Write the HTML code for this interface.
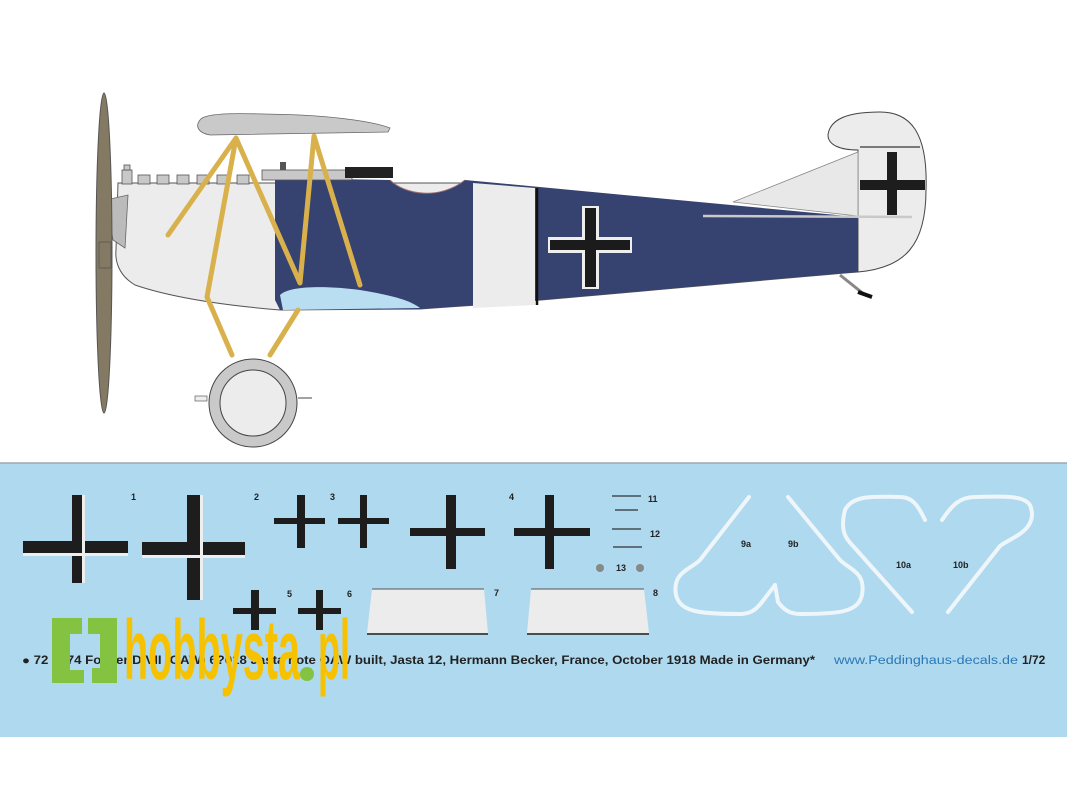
<!DOCTYPE html>
<html><head><meta charset="utf-8"><style>
html,body{margin:0;padding:0;background:#fff;width:1067px;height:800px;overflow:hidden}
svg{display:block}
</style></head><body>
<svg width="1067" height="800" viewBox="0 0 1067 800" xmlns="http://www.w3.org/2000/svg" font-family="Liberation Sans, sans-serif">
<rect width="1067" height="800" fill="#fff"/>
<rect x="0" y="463" width="1067" height="274" fill="#aed9ef"/>
<line x1="0" y1="463" x2="1067" y2="463" stroke="#9aa9b2" stroke-width="1.5"/>

<!-- tail rudder -->
<path d="M858,272 L858,150 C840,150 828,145 828,135 C830,118 850,112 880,112 C912,112 928,135 926,190 C926,245 905,268 858,272 Z" fill="#ececec" stroke="#444" stroke-width="1"/>
<path d="M733,202 L858,152 L858,216 Z" fill="#e8e8e8" stroke="#888" stroke-width="0.8"/>
<line x1="860" y1="147" x2="920" y2="147" stroke="#555" stroke-width="1.5"/>
<rect x="887" y="152" width="10" height="63" fill="#1d1d1d"/>
<rect x="860" y="180" width="65" height="10" fill="#1d1d1d"/>
<!-- fuselage -->
<path d="M118,183 L470,183 L858,218 L858,272 C700,285 560,300 420,309 L280,310 C220,305 170,297 135,285 C118,275 115,260 116,250 Z" fill="#ececec" stroke="#555" stroke-width="1"/>
<path d="M275,178 L390,180 C405,195 440,200 465,180 L858,217 L858,272 C700,285 560,300 420,309 L280,310 L275,300 Z" fill="#36426f"/>
<path d="M390,180 C405,195 440,200 465,180" fill="none" stroke="#a07070" stroke-width="1"/>
<path d="M473,183 L535,188 L535,305 L473,308 Z" fill="#ececec"/>
<line x1="537" y1="188" x2="537" y2="305" stroke="#111" stroke-width="2.5"/>
<line x1="703" y1="216" x2="912" y2="217" stroke="#c9c9c9" stroke-width="2.5"/>
<rect x="582" y="206" width="17" height="83" fill="#eee"/>
<rect x="548" y="237" width="84" height="16" fill="#eee"/>
<rect x="585" y="208" width="11" height="79" fill="#1b1b1b"/>
<rect x="550" y="240" width="80" height="10" fill="#1b1b1b"/>
<line x1="840" y1="275" x2="865" y2="295" stroke="#888" stroke-width="3"/>
<line x1="858" y1="292" x2="872" y2="297" stroke="#111" stroke-width="4"/>
<g fill="#c8c8c8" stroke="#555" stroke-width="0.8">
<rect x="122" y="170" width="10" height="14"/><rect x="124" y="165" width="6" height="5"/>
<rect x="138" y="175" width="12" height="9"/><rect x="157" y="175" width="12" height="9"/><rect x="177" y="175" width="12" height="9"/><rect x="197" y="175" width="12" height="9"/><rect x="217" y="175" width="12" height="9"/><rect x="237" y="175" width="12" height="9"/>
<rect x="262" y="170" width="90" height="10"/>
</g>
<rect x="345" y="167" width="48" height="11" fill="#222"/>
<rect x="280" y="162" width="6" height="8" fill="#555"/>
<path d="M106,200 L128,195 L125,248 L113,240 Z" fill="#bbb" stroke="#666" stroke-width="0.8"/>
<ellipse cx="104" cy="253" rx="8" ry="160" fill="#847a63" stroke="#555" stroke-width="1"/>
<rect x="99" y="242" width="12" height="26" fill="#847a63" stroke="#555" stroke-width="0.8"/>
<path d="M200,120 C205,112 240,113 300,115 C340,117 375,122 390,128 L388,132 L210,135 C198,133 195,126 200,120 Z" fill="#c9c9c9" stroke="#666" stroke-width="0.8"/>
<path d="M280,295 C290,285 330,286 360,290 C390,295 410,300 420,308 L283,310 Z" fill="#b9def2"/>
<g stroke="#d9b14c" stroke-width="5" fill="none" stroke-linecap="round" stroke-linejoin="round">
<polyline points="168,235 236,138 300,283 314,136 360,285"/>
<polyline points="236,138 207,297 232,355"/>
<line x1="298" y1="310" x2="270" y2="355"/>
</g>
<circle cx="253" cy="403" r="44" fill="#c9c9c9" stroke="#444" stroke-width="1"/>
<circle cx="253" cy="403" r="33" fill="#ececec" stroke="#444" stroke-width="1"/>
<rect x="195" y="396" width="12" height="5" fill="#eee" stroke="#444" stroke-width="0.6"/>
<line x1="298" y1="398" x2="312" y2="398" stroke="#444" stroke-width="1"/>

<!-- Decals -->
<g fill="#1d1d1d">
<rect x="72" y="495" width="10" height="88"/><rect x="23" y="541" width="105" height="12"/>
<rect x="187" y="495" width="13" height="105"/><rect x="142" y="542" width="103" height="13"/>
<rect x="297" y="495" width="8" height="53"/><rect x="274" y="518" width="51" height="6"/>
<rect x="360" y="495" width="7" height="53"/><rect x="338" y="518" width="51" height="6"/>
<rect x="446" y="495" width="10" height="74"/><rect x="410" y="528" width="75" height="8"/>
<rect x="545" y="495" width="9" height="74"/><rect x="514" y="528" width="76" height="8"/>
<rect x="251" y="590" width="8" height="40"/><rect x="233" y="608" width="43" height="6"/>
<rect x="316" y="590" width="7" height="40"/><rect x="298" y="608" width="43" height="6"/>
</g>
<g fill="#eee">
<rect x="82" y="495" width="3" height="88"/><rect x="23" y="553" width="105" height="3"/>
<rect x="200" y="495" width="3" height="105"/><rect x="142" y="555" width="103" height="3"/>
</g>
<path d="M372,589 L484,589 L488,633 L367,633 Z" fill="#ececec"/>
<line x1="372" y1="589" x2="484" y2="589" stroke="#555"/><line x1="367" y1="634" x2="488" y2="634" stroke="#222" stroke-width="1.5"/>
<path d="M531,589 L644,589 L649,633 L527,633 Z" fill="#ececec"/>
<line x1="531" y1="589" x2="644" y2="589" stroke="#555"/><line x1="527" y1="634" x2="649" y2="634" stroke="#222" stroke-width="1.5"/>
<g stroke="#333" stroke-width="1.2">
<line x1="612" y1="496" x2="641" y2="496"/><line x1="615" y1="510" x2="638" y2="510"/>
<line x1="612" y1="529" x2="641" y2="529"/><line x1="613" y1="547" x2="642" y2="547"/>
</g>
<circle cx="600" cy="568" r="4" fill="#888"/><circle cx="640" cy="568" r="4" fill="#888"/>
<g font-size="9" font-weight="bold" fill="#222">
<text x="131" y="500">1</text><text x="254" y="500">2</text><text x="330" y="500">3</text><text x="509" y="500">4</text>
<text x="287" y="597">5</text><text x="347" y="597">6</text><text x="494" y="596">7</text><text x="653" y="596">8</text>
<text x="648" y="502">11</text><text x="650" y="537">12</text><text x="616" y="571">13</text>
<text x="741" y="547">9a</text><text x="788" y="547">9b</text><text x="896" y="568">10a</text><text x="953" y="568">10b</text>
</g>
<g fill="none" stroke="#eef6fa" stroke-width="4" stroke-linejoin="round" stroke-linecap="round">
<path d="M749,497 L700,560 C690,570 672,572 676,595 C680,612 700,614 740,614 C750,614 756,610 762,602 L775,585"/>
<path d="M788,497 L840,560 C850,570 866,572 862,595 C858,612 840,614 800,614 C790,614 784,610 778,602 L775,585"/>
<path d="M912,612 L853,546 C845,538 840,530 845,510 C852,496 870,496 900,497 C912,497 918,505 925,520"/>
<path d="M948,612 L1000,546 C1010,538 1040,530 1030,505 C1024,496 1008,496 975,497 C960,497 952,505 942,520"/>
</g>
<text x="22" y="664" font-size="11.5" font-weight="bold" fill="#222" textLength="793" lengthAdjust="spacingAndGlyphs">● 72 4374 Fokker D.VII (OAW) 6?018 Jasta note OAW built, Jasta 12, Hermann Becker, France, October 1918  Made in Germany*</text>
<text x="834" y="664" font-size="11.5" fill="#2b78b8" textLength="184" lengthAdjust="spacingAndGlyphs">www.Peddinghaus-decals.de</text>
<text x="1022" y="664" font-size="12" font-weight="bold" fill="#222">1/72</text>
<path d="M52,618 L82,618 L82,634 L70,634 L70,670 L84,670 L84,683 L52,683 Z" fill="#84c341"/>
<path d="M88,618 L117,618 L117,683 L92,683 L92,668 L100,668 L100,634 L88,634 Z" fill="#84c341"/>
<text x="124" y="679" font-size="84" font-weight="bold" fill="#f6c200" textLength="176" lengthAdjust="spacingAndGlyphs">hobbysta</text>
<circle cx="307" cy="674" r="7" fill="#84c341"/>
<text x="318" y="679" font-size="84" font-weight="bold" fill="#f6c200" textLength="32" lengthAdjust="spacingAndGlyphs">pl</text>
</svg>
</body></html>
